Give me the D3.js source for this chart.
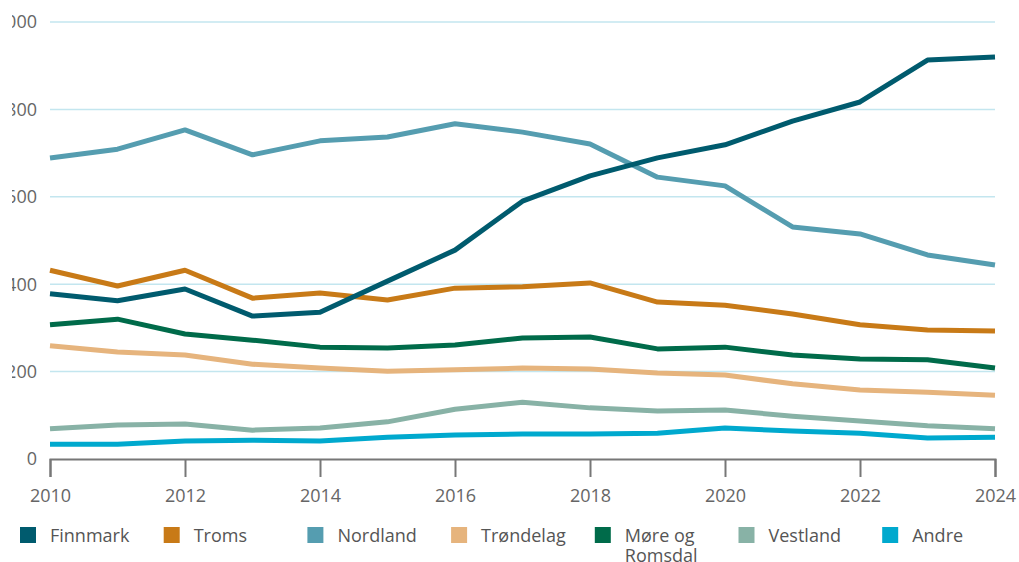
<!DOCTYPE html>
<html>
<head>
<meta charset="utf-8">
<script src="https://cdn.jsdelivr.net/npm/d3@7"></script>
<style>
  body { margin: 0; background: #fff; }
  svg { display: block; font-family: "Open Sans", sans-serif; }
</style>
</head>
<body>
<div class="chart-section"></div>
<script>
const years = [2010, 2011, 2012, 2013, 2014, 2015, 2016, 2017, 2018, 2019, 2020, 2021, 2022, 2023, 2024];
const seriesNames = ["Finnmark", "Troms", "Nordland", "Trøndelag", "Møre og Romsdal", "Vestland", "Andre"];
const seriesColors = ["#005b6e", "#c87a17", "#559db0", "#e6b47d", "#006b4a", "#88b2a6", "#00a9ce"];

const finnmark = [378, 362, 389, 327, 336, 407, 478, 590, 648, 689, 719, 773, 817, 913, 920];
const troms = [432, 396, 432, 368, 380, 364, 391, 394, 403, 359, 352, 332, 307, 295, 293];
const nordland = [689, 709, 753, 696, 728, 737, 767, 748, 721, 645, 625, 531, 515, 467, 444];
const trondelag = [259, 245, 238, 217, 208, 201, 204, 208, 206, 197, 192, 172, 158, 153, 146];
const moreRomsdal = [307, 320, 286, 272, 256, 254, 261, 277, 279, 252, 256, 238, 229, 227, 208];
const vestland = [69, 78, 80, 66, 71, 85, 114, 130, 117, 110, 112, 98, 87, 76, 69];
const andre = [34, 34, 41, 43, 41, 50, 55, 57, 57, 59, 71, 64, 59, 48, 50];

const yTicks = [0, 200, 400, 600, 800, 1000];
const xTicks = [2010, 2012, 2014, 2016, 2018, 2020, 2022, 2024];

const allValues = [finnmark, troms, nordland, trondelag, moreRomsdal, vestland, andre];

const width = 1019;
const height = 562;
const margin = { left: 50, right: 24, top: 22, bottom: 103 };

const svg = d3
  .select(".chart-section")
  .append("svg")
  .attr("width", width)
  .attr("height", height);

// the y labels are cut at the left edge of the original chart
svg
  .append("clipPath")
  .attr("id", "ylabel-clip")
  .append("rect")
  .attr("x", 12)
  .attr("y", 0)
  .attr("width", 40)
  .attr("height", height);

const x = d3
  .scaleLinear()
  .domain([2010, 2024])
  .range([margin.left, width - margin.right]);
const y = d3
  .scaleLinear()
  .domain([0, 1000])
  .range([height - margin.bottom, margin.top]);

// grid lines
svg
  .append("g")
  .selectAll("line")
  .data(yTicks.filter((d) => d > 0))
  .join("line")
  .attr("x1", x(2010))
  .attr("x2", x(2024))
  .attr("y1", (d) => y(d))
  .attr("y2", (d) => y(d))
  .attr("stroke", "#c3e6ef")
  .attr("stroke-width", 1.5);

// y labels
svg
  .append("g")
  .attr("clip-path", "url(#ylabel-clip)")
  .selectAll("text")
  .data(yTicks)
  .join("text")
  .attr("x", 37)
  .attr("y", (d) => y(d))
  .attr("dy", "0.35em")
  .attr("text-anchor", "end")
  .attr("font-size", 18)
  .attr("fill", "#666")
  .text((d) => d);

// x axis
const xAxis = d3
  .axisBottom(x)
  .tickValues(xTicks)
  .tickFormat(d3.format("d"))
  .tickSize(18)
  .tickPadding(12);

const xg = svg
  .append("g")
  .attr("transform", `translate(0,${y(0)})`)
  .call(xAxis);
xg.select(".domain").attr("stroke", "#777").attr("stroke-width", 2);
xg.selectAll(".tick line").attr("stroke", "#777").attr("stroke-width", 2);
xg.selectAll(".tick text")
  .attr("font-size", 18)
  .attr("font-family", "Open Sans, sans-serif")
  .attr("fill", "#666");

// lines
const line = d3
  .line()
  .x((d, i) => x(years[i]))
  .y((d) => y(d));

const order = d3.range(seriesNames.length).reverse();
svg
  .append("g")
  .selectAll("path")
  .data(order)
  .join("path")
  .attr("fill", "none")
  .attr("stroke", (i) => seriesColors[i])
  .attr("stroke-width", 5)
  .attr("stroke-linejoin", "round")
  .attr("d", (i) => line(allValues[i]));

// legend
const legend = svg.append("g").attr("transform", `translate(20,${527})`);
const item = legend
  .selectAll("g")
  .data(seriesNames)
  .join("g")
  .attr("transform", (d, i) => `translate(${i * 143.7},0)`);

item
  .append("rect")
  .attr("width", 16)
  .attr("height", 16)
  .attr("fill", (d, i) => seriesColors[i]);

item.each(function (d) {
  const g = d3.select(this);
  const text = g
    .append("text")
    .attr("x", 30)
    .attr("y", 15)
    .attr("font-size", 18)
    .attr("fill", "#555");
  // simple word wrap at ~100px
  const words = d.split(" ");
  let lineWords = [];
  let tspan = text.append("tspan").attr("x", 30).attr("dy", 0);
  words.forEach((w) => {
    lineWords.push(w);
    tspan.text(lineWords.join(" "));
    if (tspan.node().getComputedTextLength() > 100 && lineWords.length > 1) {
      lineWords.pop();
      tspan.text(lineWords.join(" "));
      lineWords = [w];
      tspan = text.append("tspan").attr("x", 30).attr("dy", 20).text(w);
    }
  });
});
</script>
</body>
</html>
